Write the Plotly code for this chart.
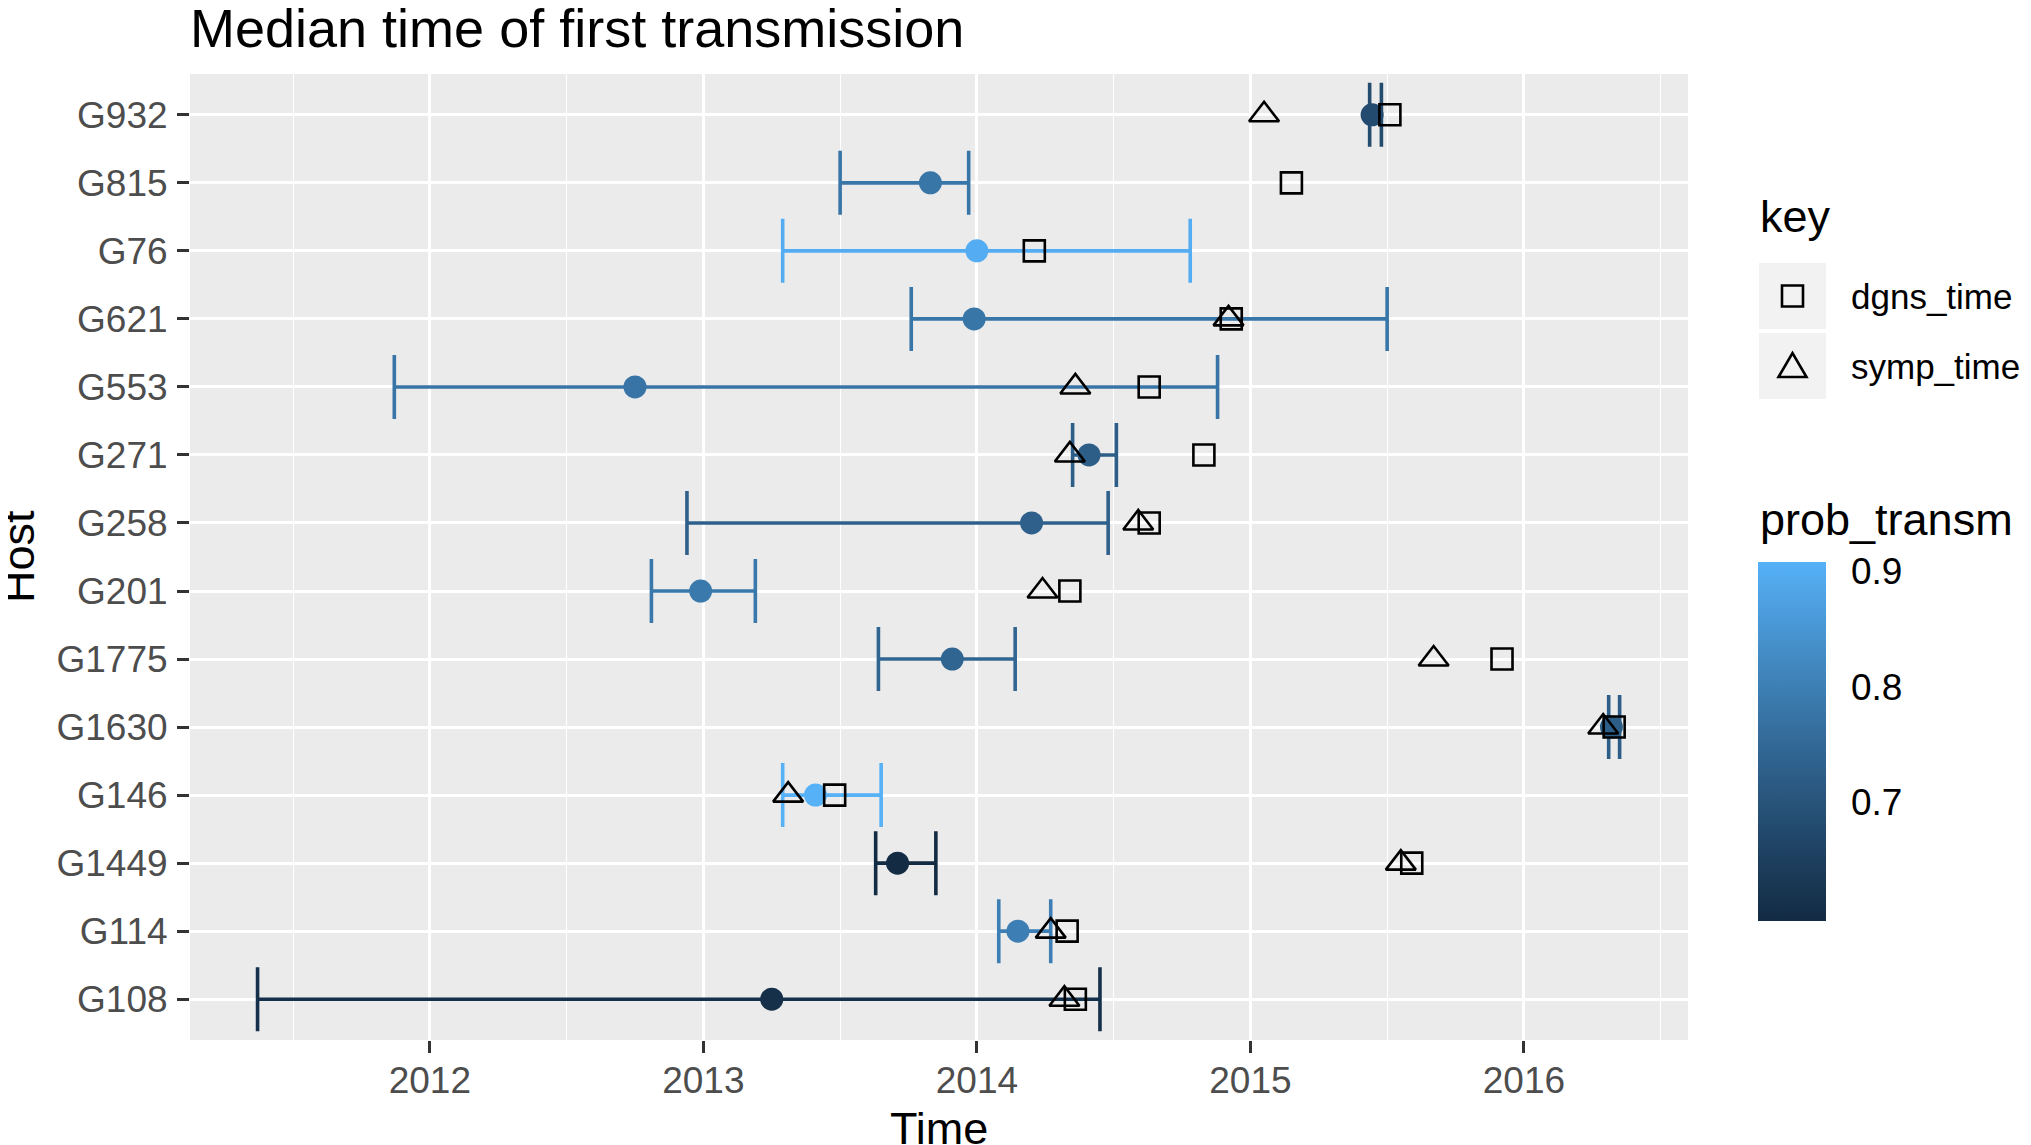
import plotly.graph_objects as go

# ---------------- data ----------------
hosts = ["G932", "G815", "G76", "G621", "G553", "G271", "G258", "G201",
         "G1775", "G1630", "G146", "G1449", "G114", "G108"]
median_time = [2015.445, 2013.83, 2014.00, 2013.99, 2012.75, 2014.41, 2014.20,
               2012.99, 2013.91, 2016.32, 2013.41, 2013.71, 2014.15, 2013.25]
lower_time = [2015.436, 2013.50, 2013.29, 2013.76, 2011.87, 2014.35, 2012.94,
              2012.81, 2013.64, 2016.31, 2013.29, 2013.63, 2014.08, 2011.37]
upper_time = [2015.479, 2013.97, 2014.78, 2015.50, 2014.88, 2014.51, 2014.48,
              2013.19, 2014.14, 2016.35, 2013.65, 2013.85, 2014.27, 2014.45]
prob_transm = [0.68, 0.78, 0.90, 0.78, 0.775, 0.725, 0.73,
               0.785, 0.74, 0.725, 0.908, 0.597, 0.80, 0.61]
dgns_time = [2015.51, 2015.15, 2014.21, 2014.93, 2014.63, 2014.83, 2014.63,
             2014.34, 2015.92, 2016.33, 2013.48, 2015.59, 2014.33, 2014.36]
symp_time = [2015.05, None, None, 2014.92, 2014.36, 2014.34, 2014.59,
             2014.24, 2015.67, 2016.29, 2013.31, 2015.55, 2014.27, 2014.32]
x_tick_vals = [2012, 2013, 2014, 2015, 2016]
cbar_tick_vals = [0.7, 0.8, 0.9]

# ---------------- layout constants ----------------
OFF = 8                       # default page body margin
W, H = 2031 - OFF, 1145 - OFF
PW, PH = 1498, 966            # plot area size
L, T = 190 - OFF, 74 - OFF
R, B = W - L - PW, H - T - PH
FONT = "Liberation Sans, Arial, Helvetica, sans-serif"


def px(x):                    # page pixel -> paper x
    return (x - OFF - L) / PW


def py(y):                    # page pixel -> paper y
    return (T + PH - (y - OFF)) / PH


# ---------------- ggplot-like Lab gradient ----------------
def _lin(c):
    c = c / 255.0
    return c / 12.92 if c <= 0.04045 else ((c + 0.055) / 1.055) ** 2.4


def _gam(c):
    c = 12.92 * c if c <= 0.0031308 else 1.055 * c ** (1 / 2.4) - 0.055
    return max(0, min(255, round(c * 255)))


def hex2lab(h):
    r, g, b = (_lin(int(h[i:i + 2], 16)) for i in (1, 3, 5))
    X = (0.4124 * r + 0.3576 * g + 0.1805 * b) / 0.95047
    Y = (0.2126 * r + 0.7152 * g + 0.0722 * b)
    Z = (0.0193 * r + 0.1192 * g + 0.9505 * b) / 1.08883
    f = lambda t: t ** (1 / 3) if t > 0.008856 else 7.787 * t + 16 / 116
    fx, fy, fz = f(X), f(Y), f(Z)
    return (116 * fy - 16, 500 * (fx - fy), 200 * (fy - fz))


def lab2rgb(lab):
    Lv, a, bb = lab
    fy = (Lv + 16) / 116
    fx = fy + a / 500
    fz = fy - bb / 200
    finv = lambda t: t ** 3 if t ** 3 > 0.008856 else (t - 16 / 116) / 7.787
    X, Y, Z = finv(fx) * 0.95047, finv(fy), finv(fz) * 1.08883
    r = 3.2406 * X - 1.5372 * Y - 0.4986 * Z
    g = -0.9689 * X + 1.8758 * Y + 0.0415 * Z
    b = 0.0557 * X - 0.2040 * Y + 1.0570 * Z
    return "rgb(%d,%d,%d)" % (_gam(r), _gam(g), _gam(b))


LOW, HIGH = hex2lab("#132B43"), hex2lab("#56B1F7")


def grad(t):
    return lab2rgb(tuple(LOW[i] + (HIGH[i] - LOW[i]) * t for i in range(3)))


cmin, cmax = min(prob_transm), max(prob_transm)
colorscale = [[i / 20, grad(i / 20)] for i in range(21)]
point_colors = [grad((p - cmin) / (cmax - cmin)) for p in prob_transm]

# colour bar geometry (page pixels)
CB_X0, CB_X1, CB_Y0, CB_Y1 = 1758, 1826, 562, 921

# ---------------- figure ----------------
fig = go.Figure()

# error bars (one trace per host for its colour)
for h, m, lo, up, col in zip(hosts, median_time, lower_time, upper_time, point_colors):
    fig.add_trace(go.Scatter(
        x=[m], y=[h], mode="markers",
        marker=dict(size=2, color="rgba(0,0,0,0)"),
        error_x=dict(type="data", symmetric=False, array=[up - m], arrayminus=[m - lo],
                     color=col, thickness=3.6, width=32),
        showlegend=False, hoverinfo="skip"))

# median points with colour bar
fig.add_trace(go.Scatter(
    x=median_time, y=hosts, mode="markers",
    marker=dict(size=23, color=prob_transm, colorscale=colorscale, cmin=cmin, cmax=cmax,
                line=dict(width=0),
                colorbar=dict(thickness=CB_X1 - CB_X0, thicknessmode="pixels",
                              len=CB_Y1 - CB_Y0, lenmode="pixels",
                              x=px(CB_X0), xanchor="left",
                              y=py((CB_Y0 + CB_Y1) / 2), yanchor="middle",
                              xpad=0, ypad=0, outlinewidth=0,
                              ticks="outside", ticklen=18, tickcolor="rgba(0,0,0,0)",
                              tickvals=cbar_tick_vals,
                              ticktext=[str(v) for v in cbar_tick_vals],
                              tickfont=dict(family=FONT, size=37, color="black"))),
    showlegend=False))

# diagnosis / symptom times
fig.add_trace(go.Scatter(
    x=dgns_time, y=hosts, mode="markers", name="dgns_time",
    marker=dict(symbol="square-open", size=21, color="black", line=dict(width=2.6)),
    showlegend=False))
fig.add_trace(go.Scatter(
    x=symp_time, y=hosts, mode="markers", name="symp_time",
    marker=dict(symbol="triangle-up-open", size=26, color="black", line=dict(width=2.6)),
    showlegend=False))

# ---------------- custom legend ("key") ----------------
shapes = []
for (y0, y1) in [(263, 329), (333, 399)]:
    shapes.append(dict(type="rect", xref="paper", yref="paper",
                       x0=px(1759), x1=px(1826), y0=py(y1), y1=py(y0),
                       fillcolor="#F2F2F2", line=dict(width=0), layer="below"))
cx = 1792.5
shapes.append(dict(type="rect", xref="paper", yref="paper",
                   x0=px(cx - 10.5), x1=px(cx + 10.5), y0=py(306.5), y1=py(285.5),
                   line=dict(color="black", width=2.6)))
tri = "M %f %f L %f %f L %f %f Z" % (px(cx - 14), py(377), px(cx + 14), py(377), px(cx), py(353))
shapes.append(dict(type="path", xref="paper", yref="paper", path=tri,
                   line=dict(color="black", width=2.6)))

# colour bar ticks drawn inside the bar on both edges (ggplot style)
for v in cbar_tick_vals:
    yy = CB_Y0 + (cmax - v) / (cmax - cmin) * (CB_Y1 - CB_Y0)
    for xa, xb in [(CB_X0, CB_X0 + 15), (CB_X1 - 15, CB_X1)]:
        shapes.append(dict(type="line", xref="paper", yref="paper",
                           x0=px(xa), x1=px(xb), y0=py(yy), y1=py(yy),
                           line=dict(color="white", width=2)))

annotations = [
    dict(text="key", x=px(1758), y=py(216), xref="paper", yref="paper",
         xanchor="left", yanchor="middle", showarrow=False,
         font=dict(family=FONT, size=45, color="black")),
    dict(text="dgns_time", x=px(1849), y=py(296), xref="paper", yref="paper",
         xanchor="left", yanchor="middle", showarrow=False,
         font=dict(family=FONT, size=35, color="black")),
    dict(text="symp_time", x=px(1849), y=py(366), xref="paper", yref="paper",
         xanchor="left", yanchor="middle", showarrow=False,
         font=dict(family=FONT, size=35, color="black")),
    dict(text="prob_transm", x=px(1758), y=py(519), xref="paper", yref="paper",
         xanchor="left", yanchor="middle", showarrow=False,
         font=dict(family=FONT, size=45, color="black")),
    dict(text="Time", x=0.5, y=py(1128), xref="paper", yref="paper",
         xanchor="center", yanchor="middle", showarrow=False,
         font=dict(family=FONT, size=45, color="black")),
    dict(text="Host", x=px(18), y=0.5, xref="paper", yref="paper", textangle=-90,
         xanchor="center", yanchor="middle", showarrow=False,
         font=dict(family=FONT, size=45, color="black")),
]

fig.update_layout(
    width=W, height=H,
    margin=dict(l=L, r=R, t=T, b=B, pad=0),
    paper_bgcolor="white", plot_bgcolor="#EBEBEB",
    title=dict(text="Median time of first transmission", x=0, xref="paper",
               xanchor="left", y=1 - (28 - OFF) / H, yref="container", yanchor="middle",
               font=dict(family=FONT, size=54, color="black")),
    shapes=shapes, annotations=annotations,
    showlegend=False,
    xaxis=dict(range=[2011.123, 2016.60], tickvals=x_tick_vals,
               ticktext=[str(v) for v in x_tick_vals],
               showgrid=True, gridcolor="white", gridwidth=2.6,
               minor=dict(dtick=0.5, tick0=2011.5, showgrid=True, gridcolor="white",
                          gridwidth=1.3, ticks=""),
               ticks="outside", ticklen=12, tickwidth=2.6, tickcolor="#333333",
               tickfont=dict(family=FONT, size=37, color="#4D4D4D"),
               zeroline=False, showline=False, ticklabelstandoff=-4),
    yaxis=dict(type="category", categoryorder="array", categoryarray=hosts[::-1],
               range=[-0.6, len(hosts) - 0.4],
               showgrid=True, gridcolor="white", gridwidth=2.6,
               ticks="outside", ticklen=12, tickwidth=2.6, tickcolor="#333333",
               tickfont=dict(family=FONT, size=37, color="#4D4D4D"),
               zeroline=False, showline=False, ticklabelstandoff=2),
)

fig.write_html("out.html")
